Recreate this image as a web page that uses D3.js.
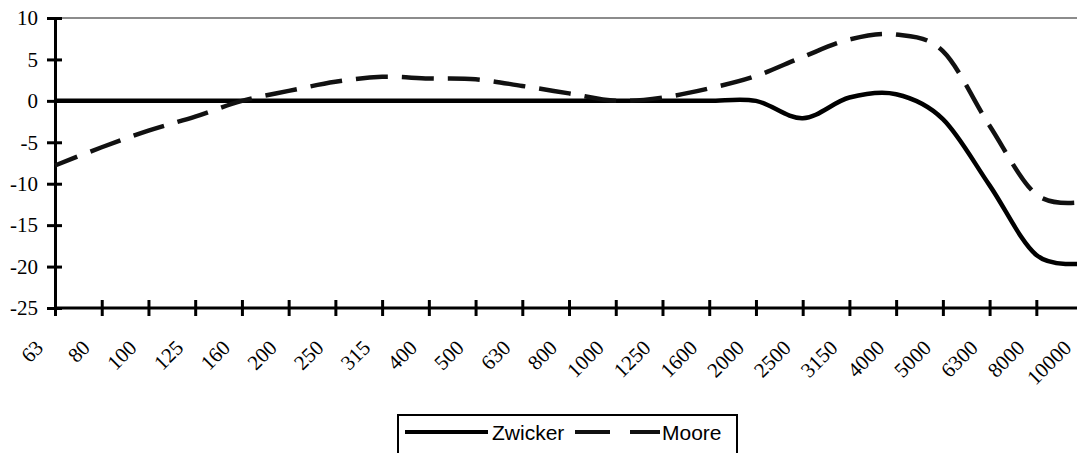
<!DOCTYPE html>
<html>
<head>
<meta charset="utf-8">
<script src="https://cdn.jsdelivr.net/npm/d3@7"></script>
<style>
  html, body { margin: 0; padding: 0; background: #fff; }
  svg { display: block; }
</style>
</head>
<body>
<svg id="chart" width="1077" height="453"></svg>
<script>
const categories = ["63","80","100","125","160","200","250","315","400","500","630","800","1000","1250","1600","2000","2500","3150","4000","5000","6300","8000","10000"];
const zwicker = [0,0,0,0,0,0,0,0,0,0,0,0,0,0,0,0,-2.1,0.4,0.8,-2.2,-10.2,-18.6,-19.6];
const moore = [-7.8,-5.6,-3.6,-1.9,0,1.2,2.3,2.9,2.7,2.6,1.8,0.9,0,0.4,1.5,3.0,5.3,7.4,8.0,6.0,-3.0,-11.3,-12.2];
const yTicks = [10,5,0,-5,-10,-15,-20,-25];
const seriesNames = ["Zwicker","Moore"];

const svg = d3.select("#chart");
const plotLeft = 55, plotTop = 18, plotBottom = 308;
const step = 46.73;

const x = d3.scalePoint().domain(categories).range([plotLeft, plotLeft + step * (categories.length - 1)]);
const y = d3.scaleLinear().domain([-25, 10]).range([plotBottom, plotTop]);

// top border line (gray)
svg.append("line")
  .attr("x1", plotLeft).attr("x2", 1077)
  .attr("y1", y(10)).attr("y2", y(10))
  .attr("stroke", "#8c8c8c").attr("stroke-width", 2);

const serif = "'Liberation Serif', 'Times New Roman', serif";

// Y axis
const yAxis = d3.axisLeft(y).tickValues(yTicks).tickFormat(d => String(d))
  .tickSizeInner(0).tickSizeOuter(0).tickPadding(17);
const gy = svg.append("g").attr("transform", `translate(${plotLeft},0)`).call(yAxis);
gy.select(".domain").attr("stroke", "#000").attr("stroke-width", 3);
gy.selectAll(".tick text").attr("font-family", serif).attr("font-size", 21).attr("fill", "#000");
gy.selectAll(".tick").append("line")
  .attr("x1", -8).attr("x2", 7).attr("stroke", "#000").attr("stroke-width", 3);

// X axis
const xAxis = d3.axisBottom(x).tickSizeInner(0).tickSizeOuter(0).tickPadding(0);
const gx = svg.append("g").attr("transform", `translate(0,${plotBottom})`).call(xAxis);
gx.select(".domain").attr("stroke", "#000").attr("stroke-width", 3).attr("d", `M${plotLeft},0H1077`);
gx.selectAll(".tick").append("line")
  .attr("y1", -8).attr("y2", 8).attr("stroke", "#000").attr("stroke-width", 3);
gx.selectAll(".tick text")
  .attr("font-family", serif).attr("font-size", 21).attr("fill", "#000")
  .attr("text-anchor", "end")
  .attr("dy", null).attr("y", null)
  .attr("transform", "translate(-11,41) rotate(-45)");

// Lines
const line = d3.line()
  .x((d, i) => x(categories[i]))
  .y(d => y(d))
  .curve(d3.curveCardinal.tension(0));

svg.append("path").datum(zwicker)
  .attr("d", line).attr("fill", "none")
  .attr("stroke", "#000").attr("stroke-width", 4.5);

svg.append("path").datum(moore)
  .attr("d", line).attr("fill", "none")
  .attr("stroke", "#111").attr("stroke-width", 4.5)
  .attr("stroke-dasharray", "32,14").attr("stroke-dashoffset", 8);

// Legend
const sans = "'Liberation Sans', Arial, sans-serif";
const lg = svg.append("g");
lg.append("rect").attr("x", 398).attr("y", 415).attr("width", 339).attr("height", 60)
  .attr("fill", "#fff").attr("stroke", "#000").attr("stroke-width", 2);
lg.append("line").attr("x1", 405).attr("x2", 488).attr("y1", 432).attr("y2", 432)
  .attr("stroke", "#000").attr("stroke-width", 4);
lg.append("text").attr("x", 492).attr("y", 440).text(seriesNames[0])
  .attr("font-family", sans).attr("font-size", 21).attr("fill", "#000");
lg.append("line").attr("x1", 575).attr("x2", 660).attr("y1", 432).attr("y2", 432)
  .attr("stroke", "#111").attr("stroke-width", 4).attr("stroke-dasharray", "35,20");
lg.append("text").attr("x", 662).attr("y", 440).text(seriesNames[1])
  .attr("font-family", sans).attr("font-size", 21).attr("fill", "#000");
</script>
</body>
</html>
